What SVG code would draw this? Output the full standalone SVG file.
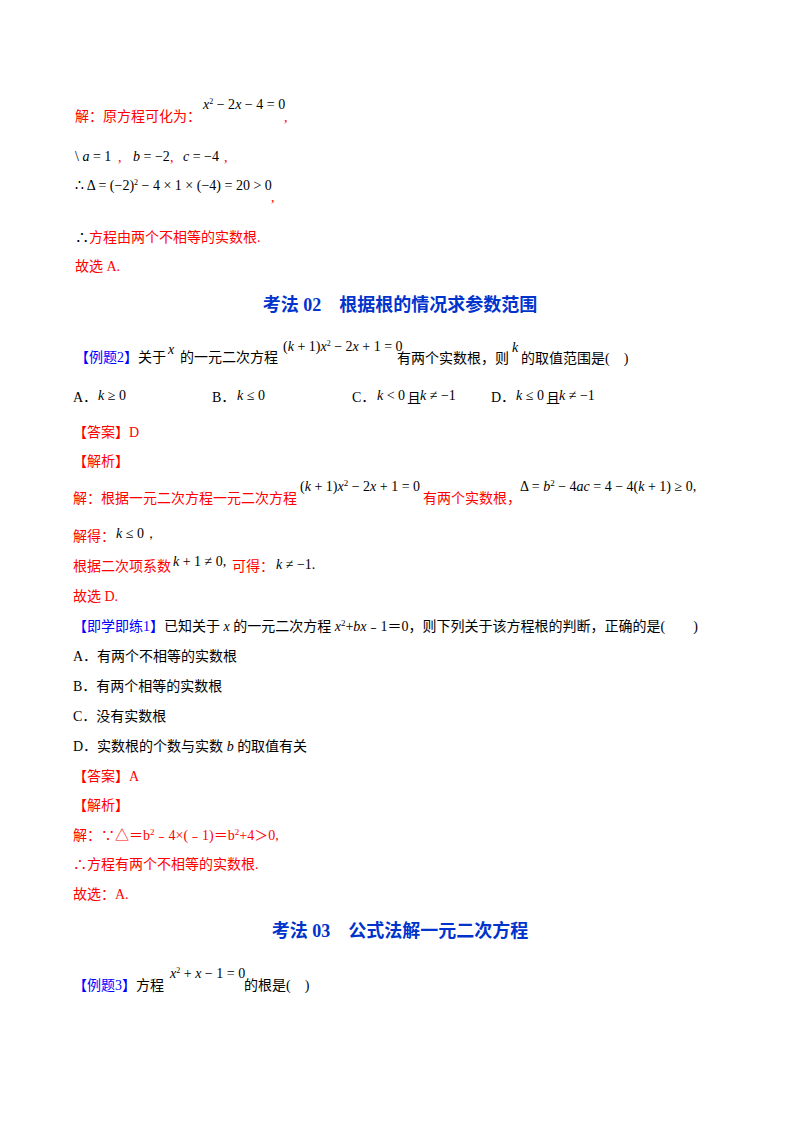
<svg xmlns="http://www.w3.org/2000/svg" width="800" height="1132" viewBox="0 0 800 1132">
<style>
text{font-family:"Liberation Serif","Noto Sans CJK SC",serif;font-size:14px;fill:#000}
.r{fill:#ff0000}.b{fill:#0000ff}
.m{font-family:"Liberation Serif",serif;font-size:14px;fill:#000}
.i{font-style:italic}
.h{font-size:18px;font-weight:bold;fill:#0033cc}
</style>
<rect width="800" height="1132" fill="#fff"/>
<text x="75" y="121" class="r">解：原方程可化为：</text>
<text x="203" y="109" class="m"><tspan class="i">x</tspan><tspan font-size="8" dy="-5">2</tspan><tspan dy="5"> − 2</tspan><tspan class="i">x</tspan> − 4 = 0</text>
<text x="284" y="122" class="r">,</text>
<text x="75" y="161" class="m" font-size="15">\ <tspan class="i">a</tspan> = 1</text><text x="118" y="162" class="r">,</text>
<text x="133" y="161" class="m" font-size="11"><tspan class="i">b</tspan> = −2</text><text x="170" y="162" class="r">,</text>
<text x="183" y="161" class="m" font-size="15"><tspan class="i">c</tspan> = −4</text><text x="224" y="162" class="r">,</text>
<text x="75" y="190" class="m" font-size="13.5">∴ Δ = (−2)<tspan font-size="8" dy="-5">2</tspan><tspan dy="5"> − 4 × 1 × (−4) = 20 &gt; 0</tspan></text>
<text x="271" y="202" class="r">,</text>
<text x="75" y="242"><tspan>∴</tspan><tspan class="r">方程由两个不相等的实数根.</tspan></text>
<text x="75" y="271" class="r">故选 A.</text>
<text x="400" y="311" class="h" text-anchor="middle">考法 02　根据根的情况求参数范围</text>
<text x="75" y="362"><tspan class="b">【例题2】</tspan>关于</text>
<text x="168" y="354" class="m i">x</text>
<text x="180" y="362">的一元二次方程</text>
<text x="283" y="351" class="m" font-size="12.5">(<tspan class="i">k</tspan> + 1)<tspan class="i">x</tspan><tspan font-size="8" dy="-5">2</tspan><tspan dy="5"> − 2</tspan><tspan class="i">x</tspan> + 1 = 0</text>
<text x="397" y="363">有两个实数根，则</text>
<text x="512" y="352" class="m i">k</text>
<text x="521" y="363">的取值范围是(　)</text>
<text x="73" y="402">A．</text><text x="98" y="400" class="m"><tspan class="i">k</tspan> ≥ 0</text>
<text x="212" y="402">B．</text><text x="237" y="400" class="m"><tspan class="i">k</tspan> ≤ 0</text>
<text x="352" y="402">C．</text><text x="377" y="400" class="m"><tspan class="i">k</tspan> &lt; 0</text><text x="407" y="403" font-size="12">且</text><text x="420" y="400" class="m"><tspan class="i">k</tspan> ≠ −1</text>
<text x="491" y="402">D．</text><text x="516" y="400" class="m"><tspan class="i">k</tspan> ≤ 0</text><text x="546" y="403" font-size="12">且</text><text x="559" y="400" class="m"><tspan class="i">k</tspan> ≠ −1</text>
<text x="73" y="437" class="r">【答案】D</text>
<text x="73" y="466" class="r">【解析】</text>
<text x="73" y="503" class="r">解：根据一元二次方程一元二次方程</text>
<text x="300" y="491" class="m" font-size="14">(<tspan class="i">k</tspan> + 1)<tspan class="i">x</tspan><tspan font-size="9" dy="-5">2</tspan><tspan dy="5"> − 2</tspan><tspan class="i">x</tspan> + 1 = 0</text>
<text x="423" y="503" class="r">有两个实数根，</text>
<text x="520" y="491" class="m" font-size="15">Δ = <tspan class="i">b</tspan><tspan font-size="9" dy="-5">2</tspan><tspan dy="5"> − 4</tspan><tspan class="i">ac</tspan> = 4 − 4(<tspan class="i">k</tspan> + 1) ≥ 0,</text>
<text x="73" y="541" class="r">解得：</text><text x="116" y="538" class="m"><tspan class="i">k</tspan> ≤ 0，</text>
<text x="73" y="571" class="r">根据二次项系数</text><text x="173" y="566" class="m"><tspan class="i">k</tspan> + 1 ≠ 0,</text>
<text x="232" y="571" class="r">可得：</text><text x="276" y="569" class="m"><tspan class="i">k</tspan> ≠ −1.</text>
<text x="73" y="601" class="r">故选 D.</text>
<text x="73" y="631"><tspan class="b">【即学即练1】</tspan>已知关于 <tspan class="i">x</tspan> 的一元二次方程 <tspan class="i">x</tspan><tspan font-size="9" dy="-5">2</tspan><tspan dy="5">+</tspan><tspan class="i">bx</tspan>﹣1＝0，则下列关于该方程根的判断，正确的是(　　)</text>
<text x="73" y="661">A．有两个不相等的实数根</text>
<text x="73" y="691">B．有两个相等的实数根</text>
<text x="73" y="721">C．没有实数根</text>
<text x="73" y="751">D．实数根的个数与实数 <tspan class="i">b</tspan> 的取值有关</text>
<text x="73" y="781" class="r">【答案】A</text>
<text x="73" y="810" class="r">【解析】</text>
<text x="73" y="840" class="r">解：∵△＝b<tspan font-size="9" dy="-5">2</tspan><tspan dy="5">﹣4×(﹣1)＝b</tspan><tspan font-size="9" dy="-5">2</tspan><tspan dy="5">+4＞0,</tspan></text>
<text x="73" y="869" class="r">∴方程有两个不相等的实数根.</text>
<text x="73" y="899" class="r">故选：A.</text>
<text x="400" y="937" class="h" text-anchor="middle">考法 03　公式法解一元二次方程</text>
<text x="73" y="990"><tspan class="b">【例题3】</tspan>方程</text>
<text x="170" y="978" class="m" font-size="12.5"><tspan class="i">x</tspan><tspan font-size="8" dy="-5">2</tspan><tspan dy="5"> + </tspan><tspan class="i">x</tspan> − 1 = 0</text>
<text x="244" y="990">的根是(　)</text>
</svg>
